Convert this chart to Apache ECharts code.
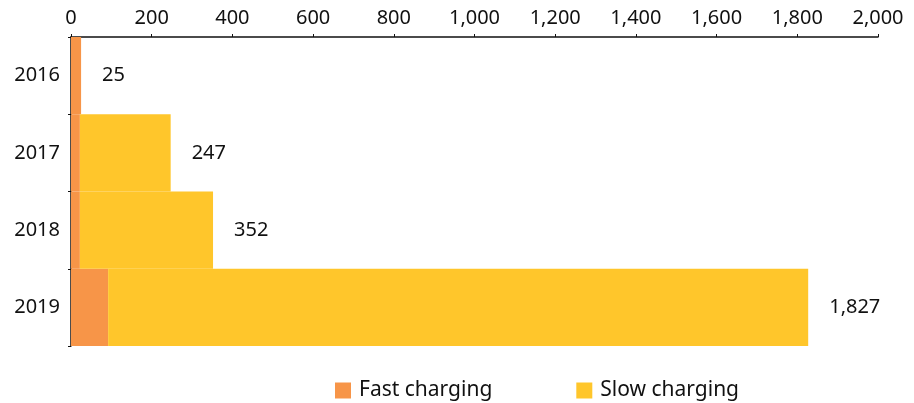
<!DOCTYPE html>
<html>
<head>
<meta charset="utf-8">
<script src="https://cdn.jsdelivr.net/npm/echarts@6/dist/echarts.min.js"></script>
<style>
  html, body { margin: 0; padding: 0; background: #fff; }
  #chart { width: 914px; height: 403px; }
</style>
</head>
<body>
<div id="chart"></div>
<script>
const years = ['2016', '2017', '2018', '2019'];
const fast = [25, 22, 22, 92];
const slow = [0, 225, 330, 1735];
const totals = [25, 247, 352, 1827];

const font = 'Noto Sans';
const chart = echarts.init(document.getElementById('chart'));

const option = {
  animation: false,
  textStyle: { fontFamily: font },
  grid: { left: 71, right: 36, top: 37, bottom: 57 },
  legend: {
    left: 335,
    top: 380,
    padding: 0,
    itemWidth: 16,
    itemHeight: 16,
    itemGap: 84,
    icon: 'rect',
    textStyle: { fontFamily: font, fontSize: 21, lineHeight: 16, color: '#111', padding: [0, 0, 0, 3] },
    data: ['Fast charging', 'Slow charging']
  },
  xAxis: {
    type: 'value',
    position: 'top',
    min: 0,
    max: 2000,
    interval: 200,
    splitLine: { show: false },
    axisLine: { show: true, lineStyle: { color: '#111', width: 1.5 } },
    axisTick: { show: true, length: 3, lineStyle: { color: '#111' } },
    axisLabel: {
      margin: 9,
      fontFamily: font,
      fontSize: 20,
      color: '#111',
      formatter: v => v.toLocaleString('en-US')
    }
  },
  yAxis: {
    type: 'category',
    inverse: true,
    data: years,
    axisLine: { show: true, lineStyle: { color: '#111', width: 1.5 } },
    axisTick: { show: true, length: 3, lineStyle: { color: '#111' } },
    axisLabel: { margin: 11, fontFamily: font, fontSize: 20, color: '#111' }
  },
  series: [
    {
      name: 'Fast charging',
      type: 'bar',
      stack: 'total',
      barCategoryGap: '0%',
      itemStyle: { color: '#F79548' },
      data: fast
    },
    {
      name: 'Slow charging',
      type: 'bar',
      stack: 'total',
      barCategoryGap: '0%',
      itemStyle: { color: '#FFC62B' },
      label: {
        show: true,
        position: 'right',
        distance: 21,
        fontFamily: font,
        fontSize: 20,
        color: '#111',
        formatter: p => totals[p.dataIndex].toLocaleString('en-US')
      },
      data: slow
    }
  ]
};

chart.setOption(option);
</script>
</body>
</html>
